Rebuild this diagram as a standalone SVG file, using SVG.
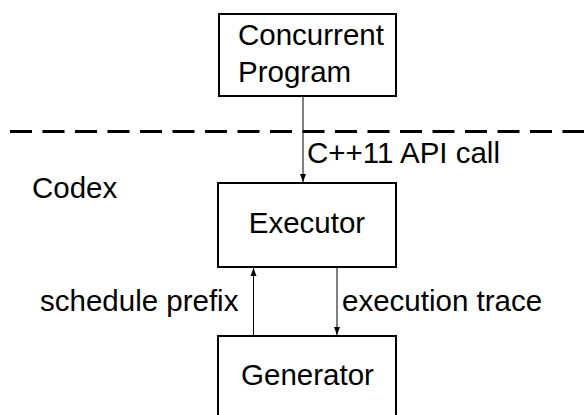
<svg xmlns="http://www.w3.org/2000/svg" width="584" height="415" viewBox="0 0 584 415">
  <style>
    .box { fill: #ffffff; stroke: #000000; stroke-width: 2; }
    .node-text { font-family: "Liberation Sans", Arial, sans-serif; font-size: 29.5px; fill: #000000; }
    .link { stroke: #000000; stroke-width: 1; fill: none; marker-end: url(#arrow); }
    .boundary { stroke: #000000; stroke-width: 3; stroke-dasharray: 22 10.5; fill: none; }
  </style>
  <defs>
    <marker id="arrow" viewBox="0 0 8 10" refX="8" refY="5" markerWidth="8" markerHeight="10" markerUnits="userSpaceOnUse" orient="auto">
      <path d="M0,2 L8,5 L0,8 Z" fill="#000000"/>
    </marker>
  </defs>

  <!-- boundary between user program and the tool -->
  <line class="boundary" x1="10" y1="131.5" x2="584" y2="131.5"/>
  <text class="node-text" x="32" y="198">Codex</text>

  <g id="concurrent-program">
    <rect class="box" x="219" y="14" width="177" height="82"/>
    <text class="node-text" x="238" y="45">Concurrent</text>
    <text class="node-text" x="238" y="82">Program</text>
  </g>

  <g id="executor">
    <rect class="box" x="218" y="183" width="178" height="84"/>
    <text class="node-text" x="307" y="233" text-anchor="middle">Executor</text>
  </g>

  <g id="generator">
    <rect class="box" x="218" y="336" width="178" height="90"/>
    <text class="node-text" x="307.5" y="385" text-anchor="middle">Generator</text>
  </g>

  <g id="connectors">
    <line class="link" x1="303" y1="97" x2="303" y2="182"/>
    <text class="node-text" x="307" y="163">C++11 API call</text>

    <line class="link" x1="253.5" y1="335" x2="253.5" y2="268"/>
    <text class="node-text" x="40" y="311">schedule prefix</text>

    <line class="link" x1="337" y1="268" x2="337" y2="335"/>
    <text class="node-text" x="342" y="311">execution trace</text>
  </g>
</svg>
